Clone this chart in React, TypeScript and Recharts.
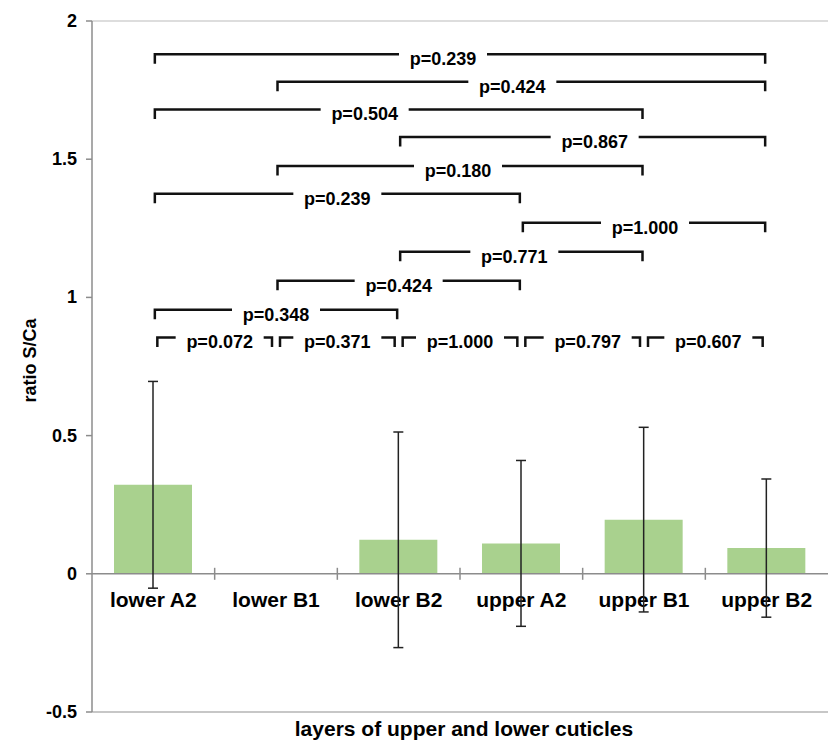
import React from "react";
import { Bar, BarChart, ErrorBar, ReferenceLine, XAxis, YAxis } from "recharts";

const categories = ["lower A2", "lower B1", "lower B2", "upper A2", "upper B1", "upper B2"];
const ratioMeans = [0.322, 0, 0.123, 0.11, 0.196, 0.093];
const ratioErrors = [0.374, 0, 0.39, 0.3, 0.334, 0.25];
const yTicks = [-0.5, 0, 0.5, 1, 1.5, 2];

// pairwise comparisons (category indices), bracket height and p value
const pairFrom = [0, 1, 0, 2, 1, 0, 3, 2, 1, 0, 0, 1, 2, 3, 4];
const pairTo = [5, 5, 4, 5, 4, 3, 5, 4, 3, 2, 1, 2, 3, 4, 5];
const pairLevel = [1.88, 1.78, 1.68, 1.58, 1.475, 1.375, 1.27, 1.165, 1.06, 0.955, 0.855, 0.855, 0.855, 0.855, 0.855];
const pValues = ["0.239", "0.424", "0.504", "0.867", "0.180", "0.239", "1.000", "0.771", "0.424", "0.348", "0.072", "0.371", "1.000", "0.797", "0.607"];

// the labels were placed by hand in the original figure, not always centred
const labelShift = [-17, -9, -34, 12, -2, 0, 1, -7, 0, 0, 5, 0, 0, 5, 3];

const FONT = '"Liberation Sans", Arial, sans-serif';
const AXIS = "#8c8c8c";

const data = categories.map((name, i) => ({
  name,
  mean: ratioMeans[i],
  err: ratioErrors[i],
}));

function bracketShape(label: string, shift: number, adjacent: boolean) {
  return (props: any) => {
    const { x1, x2, y1 } = props;
    const inset = adjacent ? 4 : 1.5;
    const left = x1 + inset;
    const right = x2 - inset;
    const mid = (x1 + x2) / 2 + shift;
    const half = 44;
    return (
      <g>
        <path
          d={`M${left},${y1 + 9.5}V${y1}H${mid - half}M${mid + half},${y1}H${right}V${y1 + 9.5}`}
          fill="none"
          stroke="#111"
          strokeWidth={2.5}
        />
        <text
          x={mid}
          y={y1 + 11}
          textAnchor="middle"
          fontFamily={FONT}
          fontWeight="bold"
          fontSize={18}
          fill="#000"
        >
          p={label}
        </text>
      </g>
    );
  };
}

const zeroAxisShape = (props: any) => {
  const { x1, x2, y1 } = props;
  const band = (x2 - x1) / categories.length;
  return (
    <g>
      <line x1={x1} x2={x2} y1={y1} y2={y1} stroke={AXIS} strokeWidth={1.5} />
      {categories.map((c, i) => (
        <g key={c}>
          {i > 0 && (
            <line
              x1={x1 + band * i}
              x2={x1 + band * i}
              y1={y1 - 6}
              y2={y1 + 6}
              stroke={AXIS}
              strokeWidth={1.5}
            />
          )}
          <text
            x={x1 + band * (i + 0.5)}
            y={y1 + 33}
            textAnchor="middle"
            fontFamily={FONT}
            fontWeight="bold"
            fontSize={21}
            fill="#000"
          >
            {c}
          </text>
        </g>
      ))}
    </g>
  );
};

const YTick = (props: any) => {
  const { x, y, payload } = props;
  return (
    <text
      x={x}
      y={y + 6}
      textAnchor="end"
      fontFamily={FONT}
      fontWeight="bold"
      fontSize={18}
      fill="#000"
    >
      {String(payload.value)}
    </text>
  );
};

const xTitle = (props: any) => {
  const { x, y, width } = props.viewBox;
  return (
    <text
      x={x + width / 2 + 4}
      y={y + 24}
      textAnchor="middle"
      fontFamily={FONT}
      fontWeight="bold"
      fontSize={21}
      fill="#000"
    >
      layers of upper and lower cuticles
    </text>
  );
};

const yTitle = (props: any) => {
  const { y, height } = props.viewBox;
  const cy = y + height / 2 - 6;
  return (
    <text
      x={36}
      y={cy}
      transform={`rotate(-90 36 ${cy})`}
      textAnchor="middle"
      fontFamily={FONT}
      fontWeight="bold"
      fontSize={18}
      fill="#000"
    >
      ratio S/Ca
    </text>
  );
};

export default function App() {
  return (
    <div style={{ position: "absolute", left: 0, top: 0, width: 828, height: 742, background: "#fff" }}>
      <BarChart
        width={828}
        height={742}
        data={data}
        margin={{ top: 21, right: 0, left: 0, bottom: 0 }}
        style={{ fontFamily: FONT }}
      >
        <XAxis
          dataKey="name"
          tick={false}
          tickLine={false}
          axisLine={false}
          height={30}
          label={{ content: xTitle }}
        />
        <YAxis
          width={92}
          domain={[-0.5, 2]}
          ticks={yTicks}
          allowDataOverflow
          stroke={AXIS}
          strokeWidth={1.5}
          tickSize={6}
          tickMargin={9}
          tick={<YTick />}
          label={{ content: yTitle }}
        />
        <ReferenceLine y={2} stroke="#d2d2d2" strokeWidth={1.5} />
        <ReferenceLine y={-0.5} stroke="#b5b5b5" strokeWidth={1.5} />
        <ReferenceLine y={0} shape={zeroAxisShape} />
        <Bar dataKey="mean" fill="#a9d18e" barSize={78} isAnimationActive={false}>
          <ErrorBar dataKey="err" width={5} stroke="#222" strokeWidth={1.5} isAnimationActive={false} />
        </Bar>
        {pValues.map((p, i) => (
          <ReferenceLine
            key={i}
            segment={[
              { x: categories[pairFrom[i]], y: pairLevel[i] },
              { x: categories[pairTo[i]], y: pairLevel[i] },
            ]}
            shape={bracketShape(p, labelShift[i], pairTo[i] - pairFrom[i] === 1)}
          />
        ))}
      </BarChart>
    </div>
  );
}
